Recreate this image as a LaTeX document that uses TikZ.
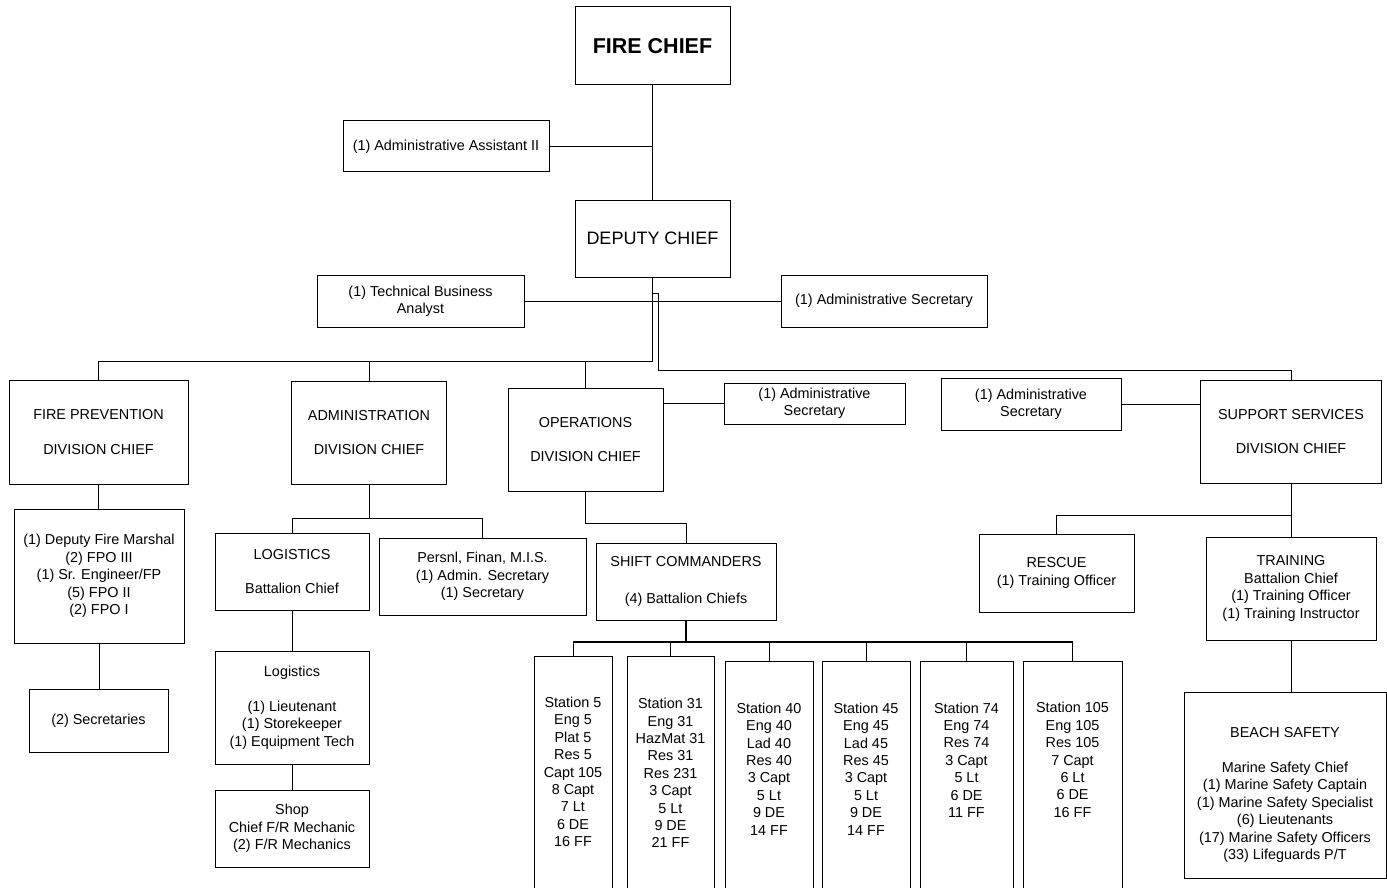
\documentclass[tikz,border=0pt]{standalone}
\usepackage{fontspec}
\setmainfont{Liberation Sans}
\newcommand\boxfont{\fontsize{14.4}{17.4}\selectfont}
\tikzset{
  box/.style={draw, line width=1pt, inner sep=0pt, align=center, font=\boxfont},
  txt/.style={inner sep=0pt, align=center, font=\boxfont},
  conn/.style={line width=1pt},
  heavy/.style={line width=2pt},
}
\begin{document}
\begin{tikzpicture}[x=1pt,y=-1pt]
\useasboundingbox (0,0) rectangle (1387,888);
\clip (0,0) rectangle (1387,888);
\fill[white] (0,0) rectangle (1387,888);
% top
\node[box, minimum width=155pt, minimum height=78pt, font=\fontsize{21.5}{26}\selectfont\bfseries] (fc) at (652.5,46) {FIRE CHIEF};
\node[box, minimum width=206pt, minimum height=51pt] (aa) at (446,146.5) {(1) Administrative Assistant II};
\node[box, minimum width=155pt, minimum height=77pt, font=\fontsize{18}{22}\selectfont] (dc) at (652.5,238.5) {DEPUTY CHIEF};
\node[box, minimum width=207pt, minimum height=52pt] (tba) at (420.5,301) {(1) Technical Business\\Analyst};
\node[box, minimum width=206pt, minimum height=52pt] (das) at (884,301) {(1) Administrative Secretary};
% divisions
\node[box, minimum width=179pt, minimum height=104pt] (fp) at (98.5,432) {FIRE PREVENTION\\[17.4pt]DIVISION CHIEF};
\node[box, minimum width=155pt, minimum height=103pt] (adm) at (369,432.5) {ADMINISTRATION\\[17.4pt]DIVISION CHIEF};
\node[box, minimum width=155pt, minimum height=103pt] (ops) at (585.5,439.5) {OPERATIONS\\[17.4pt]DIVISION CHIEF};
\node[box, minimum width=181pt, minimum height=41pt] (oas) at (814.5,403.5) {(1) Administrative\\Secretary};
\node[box, minimum width=180pt, minimum height=52pt] (sas) at (1031,404) {(1) Administrative\\Secretary};
\node[box, minimum width=181pt, minimum height=103pt] (sup) at (1291,431.5) {SUPPORT SERVICES\\[17.4pt]DIVISION CHIEF};
% fire prevention
\node[box, minimum width=170pt, minimum height=134pt] (fpd) at (99,576) {(1) Deputy Fire Marshal\\(2) FPO III\\(1) Sr. Engineer/FP\\(5) FPO II\\(2) FPO I};
\node[box, minimum width=139pt, minimum height=63pt] (sec) at (98.5,720.5) {(2) Secretaries};
% administration
\node[box, minimum width=154pt, minimum height=77pt] (log) at (292,571.5) {LOGISTICS\\[17.4pt]Battalion Chief};
\node[box, minimum width=207pt, minimum height=77pt] (per) at (482.5,576.5) {Persnl, Finan, M.I.S.\\(1) Admin. Secretary\\(1) Secretary};
\node[box, minimum width=154pt, minimum height=113pt] (lg2) at (292,707.5) {Logistics\\[17.4pt](1) Lieutenant\\(1) Storekeeper\\(1) Equipment Tech};
\node[box, minimum width=154pt, minimum height=77pt] (shop) at (292,828.5) {Shop\\Chief F/R Mechanic\\(2) F/R Mechanics};
% operations
\node[box, minimum width=180pt, minimum height=77pt] (shf) at (686,581.5) {SHIFT COMMANDERS\\[19pt](4) Battalion Chiefs};
\node[box, minimum width=78pt, minimum height=260pt, anchor=north] (s5) at (573,656) {};
\node[box, minimum width=87pt, minimum height=260pt, anchor=north] (s31) at (670.5,656) {};
\node[box, minimum width=88pt, minimum height=260pt, anchor=north] (s40) at (769,661) {};
\node[box, minimum width=88pt, minimum height=260pt, anchor=north] (s45) at (866,661) {};
\node[box, minimum width=93pt, minimum height=260pt, anchor=north] (s74) at (966.5,661) {};
\node[box, minimum width=99pt, minimum height=260pt, anchor=north] (s105) at (1072.5,661) {};
\node[txt] (s5t) at (573,772) {Station 5\\Eng 5\\Plat 5\\Res 5\\Capt 105\\8 Capt\\7 Lt\\6 DE\\16 FF};
\node[txt] (s31t) at (670.5,773) {Station 31\\Eng 31\\HazMat 31\\Res 31\\Res 231\\3 Capt\\5 Lt\\9 DE\\21 FF};
\node[txt] (s40t) at (769,769) {Station 40\\Eng 40\\Lad 40\\Res 40\\3 Capt\\5 Lt\\9 DE\\14 FF};
\node[txt] (s45t) at (866,769) {Station 45\\Eng 45\\Lad 45\\Res 45\\3 Capt\\5 Lt\\9 DE\\14 FF};
\node[txt] (s74t) at (966.5,760) {Station 74\\Eng 74\\Res 74\\3 Capt\\5 Lt\\6 DE\\11 FF};
\node[txt] (s105t) at (1072.5,760) {Station 105\\Eng 105\\Res 105\\7 Capt\\6 Lt\\6 DE\\16 FF};
% support services
\node[box, minimum width=155pt, minimum height=78pt] (res) at (1056.5,573) {RESCUE\\(1) Training Officer};
\node[box, minimum width=170pt, minimum height=103pt] (trn) at (1291,588.5) {TRAINING\\Battalion Chief\\(1) Training Officer\\(1) Training Instructor};
\node[box, minimum width=202pt, minimum height=186pt] (bch) at (1285,785) {};
\node[txt] (bcht) at (1285,795) {BEACH SAFETY\\[17.4pt]Marine Safety Chief\\(1) Marine Safety Captain\\(1) Marine Safety Specialist\\(6) Lieutenants\\(17) Marine Safety Officers\\(33) Lifeguards P/T};
% connectors
\draw[conn] (fc.south) -- (dc.north);
\draw[conn] (aa.east) -- (aa.east -| fc.south);
\coordinate (b1) at (652.5,361);
\draw[conn] (dc.south) -- (b1) -| (fp.north);
\draw[conn] (b1 -| adm.north) -- (adm.north);
\draw[conn] (b1 -| ops.north) -- (ops.north);
\draw[conn] (tba.east) -- (das.west);
\coordinate (b2) at (658.5,293);
\coordinate (b3) at (658.5,370);
\draw[conn] (dc.south |- b2) -- (b2) -- (b3) -| (sup.north);
\draw[conn] (ops.east |- oas.west) -- (oas.west);
\draw[conn] (sas.east) -- (sas.east -| sup.west);
\draw[conn] (fp.south) -- (fp.south |- fpd.north);
\draw[conn] (fpd.south) -- (fpd.south |- sec.north);
\coordinate (b4) at (369,518);
\draw[conn] (adm.south) -- (b4);
\draw[conn] (log.north) -- (log.north |- b4) -- (per.north |- b4) -- (per.north);
\draw[conn] (log.south) -- (lg2.north);
\draw[conn] (lg2.south) -- (shop.north);
\coordinate (b5) at (585.5,523);
\draw[conn] (ops.south) -- (b5) -| (shf.north);
\coordinate (b6) at (686,642);
\draw[heavy] (shf.south) -- (b6);
\draw[heavy] (s5.north |- b6) -- (s105.north |- b6);
\foreach \s in {s5,s31,s40,s45,s74,s105}{\draw[conn] (\s.north |- b6) -- (\s.north);}
\coordinate (b7) at (1291,515);
\draw[conn] (sup.south) -- (trn.north);
\draw[conn] (b7) -| (res.north);
\draw[conn] (trn.south) -- (trn.south |- bch.north);
\end{tikzpicture}
\end{document}
